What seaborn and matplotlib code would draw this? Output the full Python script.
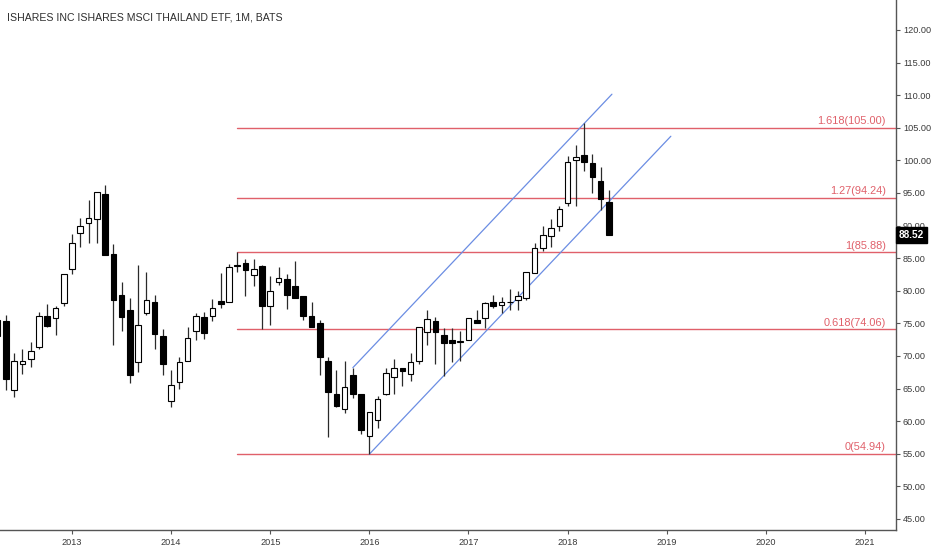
import numpy as np
import pandas as pd
import matplotlib
matplotlib.use("Agg")
import matplotlib.pyplot as plt
import matplotlib.transforms as mtransforms
import seaborn as sns

# ---------------- data ----------------
months = ["2012-04", "2012-05", "2012-06", "2012-07", "2012-08", "2012-09", "2012-10", "2012-11", "2012-12",
          "2013-01", "2013-02", "2013-03", "2013-04", "2013-05", "2013-06", "2013-07", "2013-08", "2013-09",
          "2013-10", "2013-11", "2013-12",
          "2014-01", "2014-02", "2014-03", "2014-04", "2014-05", "2014-06", "2014-07", "2014-08", "2014-09",
          "2014-10", "2014-11", "2014-12",
          "2015-01", "2015-02", "2015-03", "2015-04", "2015-05", "2015-06", "2015-07", "2015-08", "2015-09",
          "2015-10", "2015-11", "2015-12",
          "2016-01", "2016-02", "2016-03", "2016-04", "2016-05", "2016-06", "2016-07", "2016-08", "2016-09",
          "2016-10", "2016-11", "2016-12",
          "2017-01", "2017-02", "2017-03", "2017-04", "2017-05", "2017-06", "2017-07", "2017-08", "2017-09",
          "2017-10", "2017-11", "2017-12",
          "2018-01", "2018-02", "2018-03", "2018-04", "2018-05", "2018-06"]

opens = [73.0, 75.3, 64.7, 68.7, 69.6, 71.4, 76.2, 75.8, 78.1,
         83.3, 88.8, 90.4, 91.0, 94.9, 85.7, 79.3, 77.1, 69.0, 76.6, 78.3, 73.1,
         63.1, 66.0, 69.3, 73.8, 76.0, 76.1, 78.5, 78.3, 83.9, 84.2, 82.4, 83.8,
         77.6, 81.4, 81.8, 80.7, 79.2, 76.2, 75.0, 69.3, 64.1, 61.9, 67.0, 64.1,
         57.7, 60.2, 64.1, 66.8, 68.2, 67.3, 69.3, 73.7, 75.35, 73.2, 72.4, 72.1,
         72.4, 75.55, 75.8, 78.3, 77.75, 78.2, 78.6, 78.9, 82.7, 86.5, 88.4, 89.9,
         93.4, 100.0, 100.75, 99.6, 96.9, 93.6]

highs = [76.0, 76.3, 70.5, 71.1, 72.1, 76.7, 78.0, 77.6, 82.6,
         88.7, 91.1, 93.9, 95.1, 96.2, 87.1, 81.3, 78.9, 84.0, 82.8, 79.3, 74.1,
         67.9, 69.9, 74.4, 76.6, 76.8, 78.8, 82.7, 84.1, 85.88, 84.8, 84.8, 84.0,
         82.3, 83.7, 82.5, 84.6, 79.2, 78.3, 75.5, 69.9, 67.9, 69.2, 68.2, 64.1,
         61.4, 63.8, 68.2, 69.5, 68.2, 70.5, 74.5, 77.0, 76.0, 74.3, 74.3, 73.8,
         75.8, 77.0, 78.3, 79.3, 79.0, 80.2, 80.0, 82.9, 87.3, 90.0, 91.0, 93.0,
         100.65, 102.3, 105.75, 101.05, 99.0, 95.45]

lows = [72.6, 64.8, 63.7, 67.2, 68.3, 71.0, 74.4, 73.2, 77.6,
        82.6, 86.7, 87.4, 87.3, 85.5, 71.7, 73.8, 65.8, 67.6, 76.3, 71.1, 67.0,
        62.2, 65.0, 69.3, 72.4, 72.6, 75.4, 77.4, 78.3, 82.8, 79.2, 80.8, 74.2,
        74.7, 80.9, 77.2, 78.9, 75.5, 74.5, 67.0, 57.5, 62.1, 61.2, 63.6, 58.1,
        54.94, 58.9, 64.0, 64.1, 65.4, 66.2, 68.8, 71.7, 68.7, 66.95, 69.0, 69.3,
        72.4, 75.0, 74.3, 77.4, 76.6, 77.0, 77.0, 78.6, 82.7, 86.1, 86.7, 89.2,
        93.0, 93.0, 98.3, 95.05, 92.35, 88.52]

closes = [75.5, 66.4, 69.2, 69.3, 70.7, 76.1, 74.6, 77.3, 82.6,
          87.3, 89.9, 91.2, 95.1, 85.5, 78.6, 76.0, 67.0, 74.7, 78.6, 73.4, 68.7,
          65.5, 69.0, 72.8, 76.1, 73.5, 77.3, 77.9, 83.6, 83.75, 83.2, 83.3, 77.6,
          80.0, 81.9, 79.4, 78.9, 76.2, 74.5, 69.9, 64.5, 62.3, 65.3, 64.1, 58.7,
          61.4, 63.4, 67.4, 68.1, 67.7, 69.0, 74.5, 75.6, 73.6, 72.0, 72.0, 72.2,
          75.8, 75.0, 78.15, 77.65, 78.3, 78.35, 79.2, 82.8, 86.5, 88.6, 89.7, 92.6,
          99.8, 100.55, 99.8, 97.4, 94.1, 88.52]

fib_ratios = ["0", "0.618", "1", "1.27", "1.618"]
fib_levels = [54.94, 74.06, 85.88, 94.24, 105.00]
fib_start = "2014-09"

channel_lower_dates = ["2016-01-01", "2019-01-16"]
channel_lower_prices = [54.94, 103.7]
channel_upper_dates = ["2015-11-01", "2018-06-12"]
channel_upper_prices = [68.2, 110.15]

year_ticks = ["2013", "2014", "2015", "2016", "2017", "2018", "2019", "2020", "2021"]
price_ticks = [45, 50, 55, 60, 65, 70, 75, 80, 85, 90, 95, 100, 105, 110, 115, 120]

title = "ISHARES INC ISHARES MSCI THAILAND ETF, 1M, BATS"
last_price = closes[-1]


def month_index(s):
    parts = [int(p) for p in s.split("-")]
    y, m = parts[0], parts[1]
    d = parts[2] if len(parts) > 2 else 1
    return (y - 2013) * 12 + (m - 1) + (d - 1) / 30.0


# ---------------- style ----------------
sns.set_theme(style="white")
plt.rcParams["font.family"] = ["Liberation Sans", "DejaVu Sans"]

RED = "#e0606a"
BLUE = "#6b8de3"
AXC = "#555555"

fig = plt.figure(figsize=(9.32, 5.5), dpi=100)
ax = fig.add_axes([0, 20 / 550, 896 / 932, 530 / 550])
ax.set_facecolor("white")

df = pd.DataFrame({"month": months, "open": opens, "high": highs, "low": lows, "close": closes})
df["x"] = df["month"].map(month_index)
df["up"] = df["close"] >= df["open"]

x_left, x_right = -8.72, 99.76
ax.set_xlim(x_left, x_right)
ax.set_ylim(43.3, 124.6)

# wicks
ax.vlines(df["x"], df["low"], df["high"], color="#2a2a2a", lw=0.9, zorder=3)
# bodies
body_bottom = np.minimum(df["open"], df["close"])
body_height = np.maximum(np.abs(df["close"] - df["open"]), 0.12)
face = np.where(df["up"], "white", "black")
ax.bar(df["x"], body_height, bottom=body_bottom, width=0.68, color=face,
       edgecolor="black", linewidth=0.8, zorder=4)

# fib levels
fx0 = month_index(fib_start)
fib_rows = []
for r, lv in zip(fib_ratios, fib_levels):
    fib_rows.append({"x": fx0, "y": lv, "lvl": r})
    fib_rows.append({"x": x_right, "y": lv, "lvl": r})
fib_df = pd.DataFrame(fib_rows)
sns.lineplot(data=fib_df, x="x", y="y", units="lvl", estimator=None, color=RED,
             lw=1.0, ax=ax, zorder=2, legend=False, sort=False)

lab_tr = mtransforms.blended_transform_factory(ax.transAxes, ax.transData)
for r, lv in zip(fib_ratios, fib_levels):
    t = ax.text(886 / 896, lv, f"{r}({lv:.2f})", transform=lab_tr, ha="right", va="bottom",
                color=RED, fontsize=7.9, zorder=5)
    t.set_transform(lab_tr + mtransforms.ScaledTranslation(0, 1.2 / 72, fig.dpi_scale_trans))

# channel
ch_rows = []
for name, ds, ps in [("lower", channel_lower_dates, channel_lower_prices),
                     ("upper", channel_upper_dates, channel_upper_prices)]:
    for d, p in zip(ds, ps):
        ch_rows.append({"x": month_index(d), "y": p, "line": name})
ch_df = pd.DataFrame(ch_rows)
sns.lineplot(data=ch_df, x="x", y="y", units="line", estimator=None, color=BLUE,
             lw=0.9, ax=ax, zorder=2.5, legend=False, sort=False)

# axes
for s in ["top", "left"]:
    ax.spines[s].set_visible(False)
for s in ["right", "bottom"]:
    ax.spines[s].set_visible(True)
    ax.spines[s].set_color(AXC)
    ax.spines[s].set_linewidth(1.0)

ax.yaxis.tick_right()
ax.set_yticks(price_ticks)
ax.set_yticklabels([f"{v:.2f}" for v in price_ticks])
ax.set_xticks([month_index(y + "-01") for y in year_ticks])
ax.set_xticklabels(year_ticks)
ax.tick_params(axis="both", which="both", length=3, width=0.8, color=AXC,
               labelsize=6.6, labelcolor="#3a3a3a", pad=2)
ax.tick_params(axis="y", right=True, left=False, pad=2)
ax.tick_params(axis="x", bottom=True, pad=3)
ax.set_xlabel("")
ax.set_ylabel("")
ax.grid(False)

# last price tag
ax.text(1.0 + 3 / 896, last_price, f"{last_price:.2f}", transform=lab_tr, ha="left", va="center",
        color="white", fontsize=7.2, fontweight="bold", zorder=10, clip_on=False,
        bbox=dict(boxstyle="square,pad=0.3", fc="black", ec="black"))

fig.text(7 / 932, 1 - 18 / 550, title, ha="left", va="center", fontsize=7.6,
         color="#2e2e2e", family=["Liberation Sans Narrow", "Liberation Sans", "DejaVu Sans"])

fig.savefig("out.png", dpi=100, facecolor="white")
